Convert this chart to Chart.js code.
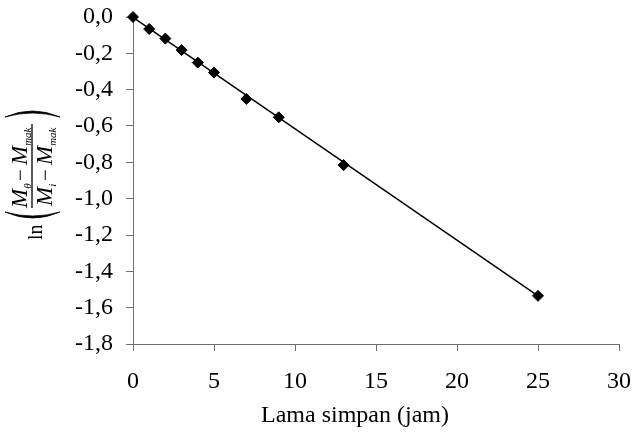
<!DOCTYPE html>
<html>
<head>
<meta charset="utf-8">
<script src="https://cdn.jsdelivr.net/npm/chart.js@4.4.1/dist/chart.umd.min.js"></script>
<style>
  html, body { margin: 0; padding: 0; background: #fff; }
  #wrap { width: 634px; height: 435px; position: relative; }
</style>
</head>
<body>
<div id="wrap"><canvas id="chart"></canvas></div>
<script>
// Lama simpan (jam) vs ln((M_theta - M_mak) / (M_i - M_mak))
const hours = [0, 1, 2, 3, 4, 5, 7, 9, 13, 25];
const lnRatio = [0, -0.066, -0.119, -0.182, -0.251, -0.306, -0.451, -0.552, -0.815, -1.535];
// trend line end points
const trendHours = [0, 25];
const trendValues = [-0.002, -1.535];
const xTicks = [0, 5, 10, 15, 20, 25, 30];
const yTicks = [0, -0.2, -0.4, -0.6, -0.8, -1.0, -1.2, -1.4, -1.6, -1.8];
const xTitle = 'Lama simpan (jam)';

const SERIF = '"Liberation Serif", "Times New Roman", serif';
const AXIS = '#6e6e6e';

// axis titles: the x title sits left of the plot centre, the y title is a formula
const titlesPlugin = {
    id: 'axisTitles',
    afterDraw: function(chart) {
        const ctx = chart.ctx;
        ctx.save();
        ctx.fillStyle = '#000';
        ctx.font = '24px ' + SERIF;
        ctx.textAlign = 'center';
        ctx.textBaseline = 'middle';
        ctx.fillText(xTitle, 355, 416);
        ctx.restore();

        ctx.save();
        ctx.translate(32, 170);
        ctx.rotate(-Math.PI / 2);
        ctx.fillStyle = '#000';
        ctx.strokeStyle = '#000';
        ctx.textBaseline = 'alphabetic';
        ctx.textAlign = 'left';

        // "ln"
        ctx.font = '20px ' + SERIF;
        ctx.fillText('ln', -70, 10);

        // big parentheses (crescents)
        const paren = function(tip, dir) {
            ctx.beginPath();
            ctx.moveTo(tip, -27);
            ctx.quadraticCurveTo(tip - dir * 12, 0.5, tip, 28);
            ctx.quadraticCurveTo(tip - dir * 8, 0.5, tip, -27);
            ctx.fill();
            ctx.lineWidth = 0.8;
            ctx.stroke();
        };
        paren(-42, 1);
        paren(53, -1);

        // fraction line
        ctx.lineWidth = 1.3;
        ctx.beginPath();
        ctx.moveTo(-38, 0);
        ctx.lineTo(46, 0);
        ctx.stroke();

        const part = function(x, y, main, sub) {
            ctx.font = 'italic 23px ' + SERIF;
            ctx.fillText(main, x, y);
            const w = ctx.measureText(main).width;
            ctx.font = 'italic 11px ' + SERIF;
            ctx.fillText(sub, x + w, y + 4);
            return x + w + ctx.measureText(sub).width;
        };
        part(-38, -5, 'M', '\u03b8');
        ctx.font = '21px ' + SERIF;
        ctx.fillText('\u2212', -11, -5);
        part(5, -5, 'M', 'mak');

        part(-36, 20, 'M', 'i');
        ctx.font = '21px ' + SERIF;
        ctx.fillText('\u2212', -11, 20);
        part(5, 20, 'M', 'mak');

        ctx.restore();
    }
};

const ctx = document.getElementById('chart');
new Chart(ctx, {
    type: 'scatter',
    data: {
        datasets: [{
            label: 'trend',
            data: trendHours.map((h, i) => ({ x: h, y: trendValues[i] })),
            showLine: true,
            borderColor: '#000',
            borderWidth: 1.5,
            pointRadius: 0,
            clip: false,
            order: 2
        }, {
            label: 'data',
            data: hours.map((h, i) => ({ x: h, y: lnRatio[i] })),
            showLine: false,
            pointStyle: 'rectRot',
            pointRadius: 5.5,
            backgroundColor: '#000',
            borderColor: '#000',
            borderWidth: 1,
            clip: false,
            order: 1
        }]
    },
    options: {
        responsive: true,
        maintainAspectRatio: false,
        animation: false,
        layout: { padding: { left: 0, right: 15, top: 17, bottom: 0 } },
        plugins: {
            legend: { display: false },
            tooltip: { enabled: false }
        },
        scales: {
            x: {
                type: 'linear',
                min: 0,
                max: 30,
                afterBuildTicks: function(scale) {
                    scale.ticks = xTicks.map(v => ({ value: v }));
                },
                afterFit: function(scale) {
                    scale.height = 91;
                    scale.paddingLeft = 0;
                    scale.paddingRight = 0;
                },
                ticks: {
                    color: '#000',
                    font: { family: SERIF, size: 24 },
                    padding: 16,
                    maxRotation: 0
                },
                grid: { drawOnChartArea: false, tickLength: 7, color: AXIS },
                border: { color: AXIS, width: 1 }
            },
            y: {
                type: 'linear',
                min: -1.8,
                max: 0,
                afterBuildTicks: function(scale) {
                    scale.ticks = yTicks.map(v => ({ value: v }));
                },
                afterFit: function(scale) {
                    scale.width = 133;
                    scale.paddingTop = 0;
                    scale.paddingBottom = 0;
                },
                ticks: {
                    color: '#000',
                    font: { family: SERIF, size: 24 },
                    padding: 13,
                    callback: function(v) { return v.toFixed(1).replace('.', ','); }
                },
                grid: { drawOnChartArea: false, tickLength: 7, color: AXIS },
                border: { color: AXIS, width: 1 }
            }
        }
    },
    plugins: [titlesPlugin]
});
</script>
</body>
</html>
